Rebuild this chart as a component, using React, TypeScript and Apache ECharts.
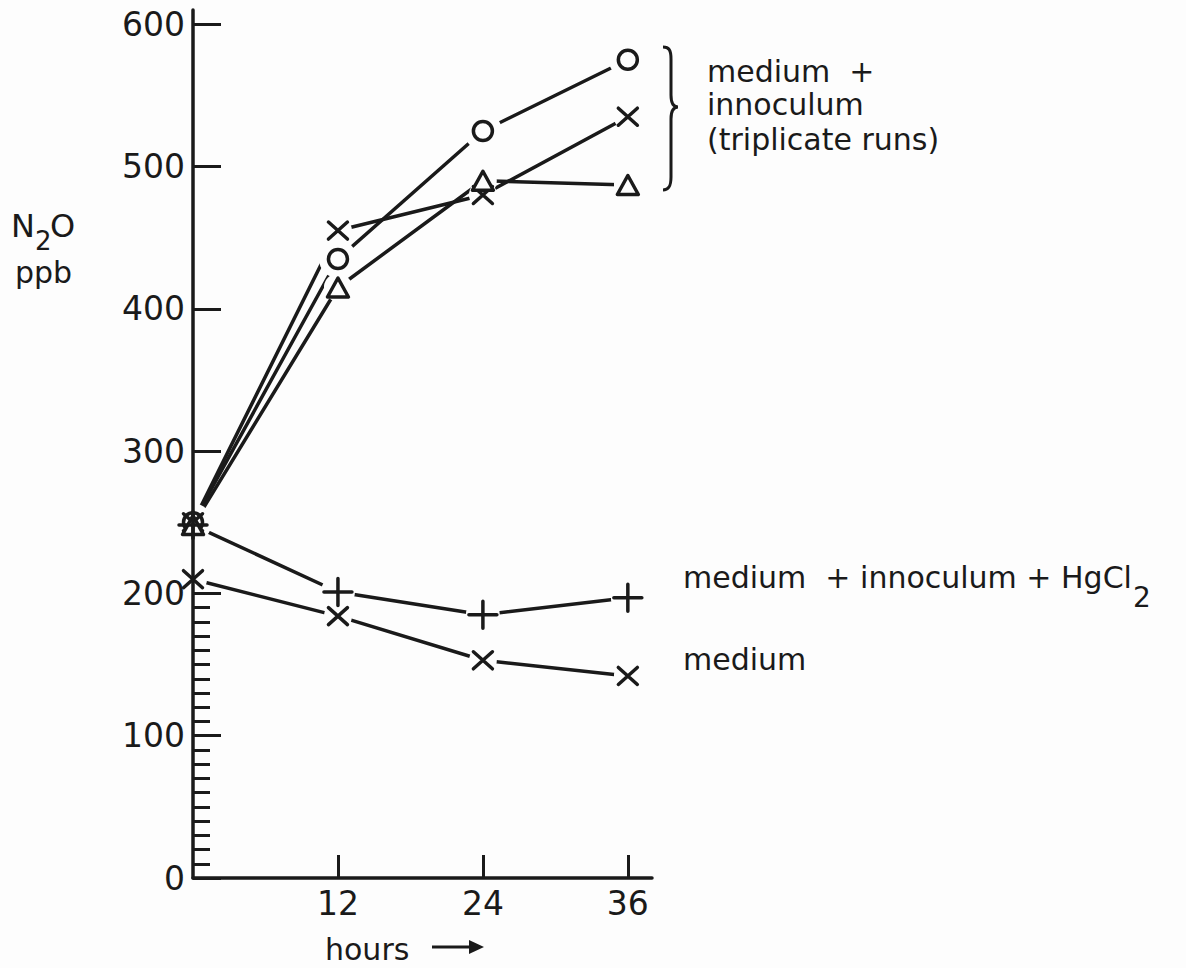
import React, { useEffect, useRef } from 'react';
import * as echarts from 'echarts';

// Sampling times (hours) and N2O concentrations (ppb)
const hours = [0, 12, 24, 36];
const inoculumRunO = [250, 435, 525, 575];
const inoculumRunX = [250, 455, 480, 535];
const inoculumRunTri = [248, 415, 490, 487];
const inoculumHgCl2 = [248, 201, 185, 197];
const mediumOnly = [210, 184, 153, 142];

// Axis ticks
const yTickValues = [0, 100, 200, 300, 400, 500, 600];
const yMinorTickValues = [10, 20, 30, 40, 50, 60, 70, 80, 90, 110, 120, 130, 140, 150, 160, 170, 180, 190];
const xTickValues = [12, 24, 36];

const INK = '#1a1a1a';
const PAPER = '#fdfdfd';
const FONT = '"DejaVu Sans", sans-serif';

// Markers are small SVG images. A paper-coloured disc is drawn first under every
// point so the connecting lines stop short of it, then the ink glyphs on top.
function svgImage(size: number, body: string): string {
  const svg =
    `<svg xmlns="http://www.w3.org/2000/svg" width="${size}" height="${size}" viewBox="0 0 ${size} ${size}">` +
    body +
    `</svg>`;
  return 'image://data:image/svg+xml;charset=utf-8,' + encodeURIComponent(svg);
}
function discImage(size: number): string {
  const c = size / 2;
  return svgImage(size, `<circle cx="${c}" cy="${c}" r="${c}" fill="${PAPER}"/>`);
}
function glyphImage(size: number, glyph: string): string {
  return svgImage(
    size,
    `<g fill="none" stroke="${INK}" stroke-width="3.5" stroke-linecap="round" stroke-linejoin="round">${glyph}</g>`
  );
}

const markerCircle = { size: 38, glyph: glyphImage(38, `<circle cx="19" cy="19" r="9.5" fill="${PAPER}"/>`) };
const markerCross = { size: 28, glyph: glyphImage(28, '<path d="M4.5,5.5L23.5,22.5M23.5,5.5L4.5,22.5"/>') };
const markerTriangle = { size: 28, glyph: glyphImage(28, `<path d="M14,4.5L24.5,23.5L3.5,23.5Z" fill="${PAPER}"/>`) };
const markerPlus = { size: 34, glyph: glyphImage(34, '<path d="M3,17L31,17M17,3.5L17,30.5"/>') };

const runs = [
  { values: inoculumRunO, marker: markerCircle },
  { values: inoculumRunX, marker: markerCross },
  { values: inoculumRunTri, marker: markerTriangle },
  { values: mediumOnly, marker: markerCross },
  { values: inoculumHgCl2, marker: markerPlus },
];

const BRACE =
  'M0,0 C6,0 8,3 8,12 L8,48 C8,56 10,60 15,60 C10,60 8,64 8,72 L8,130 C8,139 6,143 0,143';

let braceRegistered = false;
function registerBrace() {
  if (braceRegistered) return;
  echarts.graphic.registerShape('brace', echarts.graphic.extendPath(BRACE, {}));
  braceRegistered = true;
}

function measure(text: string, font: string): number {
  const ctx = document.createElement('canvas').getContext('2d');
  if (!ctx) return text.length * 15;
  ctx.font = font;
  return ctx.measureText(text).width;
}

function label(text: string, x: number, y: number, size: number) {
  return {
    type: 'text',
    x,
    y,
    z: 10,
    style: {
      text,
      fill: INK,
      fontSize: size,
      fontFamily: FONT,
      align: 'left',
      verticalAlign: 'middle',
      textAlign: 'left',
      textVerticalAlign: 'middle',
    },
  };
}

export default function App() {
  const ref = useRef<HTMLDivElement>(null);

  useEffect(() => {
    if (!ref.current) return;
    registerBrace();
    const chart = echarts.init(ref.current, undefined, { renderer: 'svg' });

    const pointsOf = (values: number[]) => hours.map((h, i) => [h, values[i]]);
    const series: any[] = [];
    runs.forEach((r) => {
      series.push({
        type: 'line',
        data: pointsOf(r.values),
        showSymbol: false,
        z: 2,
        lineStyle: { color: INK, width: 3.5 },
      });
    });
    // discs first, then glyphs, at the same z so series order decides stacking
    runs.forEach((r) => {
      series.push({
        type: 'scatter',
        data: pointsOf(r.values),
        symbol: discImage(r.marker.size),
        symbolSize: r.marker.size,
        z: 4,
        itemStyle: { opacity: 1 },
      });
    });
    runs.forEach((r) => {
      series.push({
        type: 'scatter',
        data: pointsOf(r.values),
        symbol: r.marker.glyph,
        symbolSize: r.marker.size,
        z: 4,
        itemStyle: { opacity: 1 },
      });
    });

    const hgText = 'medium\u00a0 + innoculum + HgCl';
    const hgWidth = measure(hgText, `30px ${FONT}`);

    chart.setOption({
      animation: false,
      backgroundColor: PAPER,
      grid: { left: 193, right: 534, top: 10, bottom: 90 },
      xAxis: {
        type: 'value',
        min: 0,
        max: 38,
        z: 5,
        splitLine: { show: false },
        axisLine: { show: true, lineStyle: { color: INK, width: 3.5 } },
        axisTick: {
          show: true,
          inside: true,
          length: 23,
          customValues: xTickValues,
          lineStyle: { color: INK, width: 3 },
        },
        axisLabel: {
          customValues: xTickValues,
          margin: 9,
          color: INK,
          fontSize: 33,
          fontFamily: FONT,
        },
      },
      yAxis: [
        {
          type: 'value',
          min: 0,
          max: 610,
          z: 5,
          splitLine: { show: false },
          axisLine: { show: true, lineStyle: { color: INK, width: 3.5 } },
          axisTick: {
            show: true,
            inside: true,
            length: 28,
            customValues: yTickValues,
            lineStyle: { color: INK, width: 3 },
          },
          axisLabel: {
            customValues: yTickValues,
            margin: 8,
            color: INK,
            fontSize: 33,
            fontFamily: FONT,
          },
        },
        {
          type: 'value',
          min: 0,
          max: 610,
          z: 5,
          position: 'left',
          splitLine: { show: false },
          axisLine: { show: false },
          axisLabel: { show: false },
          axisTick: {
            show: true,
            inside: true,
            length: 17,
            customValues: yMinorTickValues,
            lineStyle: { color: INK, width: 3 },
          },
        },
      ],
      series,
      graphic: [
        {
          type: 'brace',
          x: 663,
          y: 47,
          z: 10,
          style: { stroke: INK, lineWidth: 3, fill: 'none' },
        },
        label('medium\u00a0 +', 707, 71.6, 30),
        label('innoculum', 707, 104.6, 30),
        label('(triplicate runs)', 707, 139.6, 30),
        label(hgText, 683, 577.6, 30),
        label('2', 683 + hgWidth + 1, 597.3, 28),
        label('medium', 683, 659.6, 30),
        label('N', 11, 226, 32),
        label('2', 35, 241, 26),
        label('O', 50, 226, 32),
        label('ppb', 15, 272.6, 30),
        label('hours', 325, 949.6, 30),
        {
          type: 'line',
          z: 10,
          shape: { x1: 432, y1: 947, x2: 474, y2: 947 },
          style: { stroke: INK, lineWidth: 3 },
        },
        {
          type: 'polygon',
          z: 10,
          shape: { points: [[469, 940], [484, 947], [469, 954]] },
          style: { fill: INK },
        },
      ],
    });

    return () => chart.dispose();
  }, []);

  return (
    <div
      ref={ref}
      style={{ position: 'fixed', left: 0, top: 0, width: 1186, height: 968, background: PAPER }}
    />
  );
}
